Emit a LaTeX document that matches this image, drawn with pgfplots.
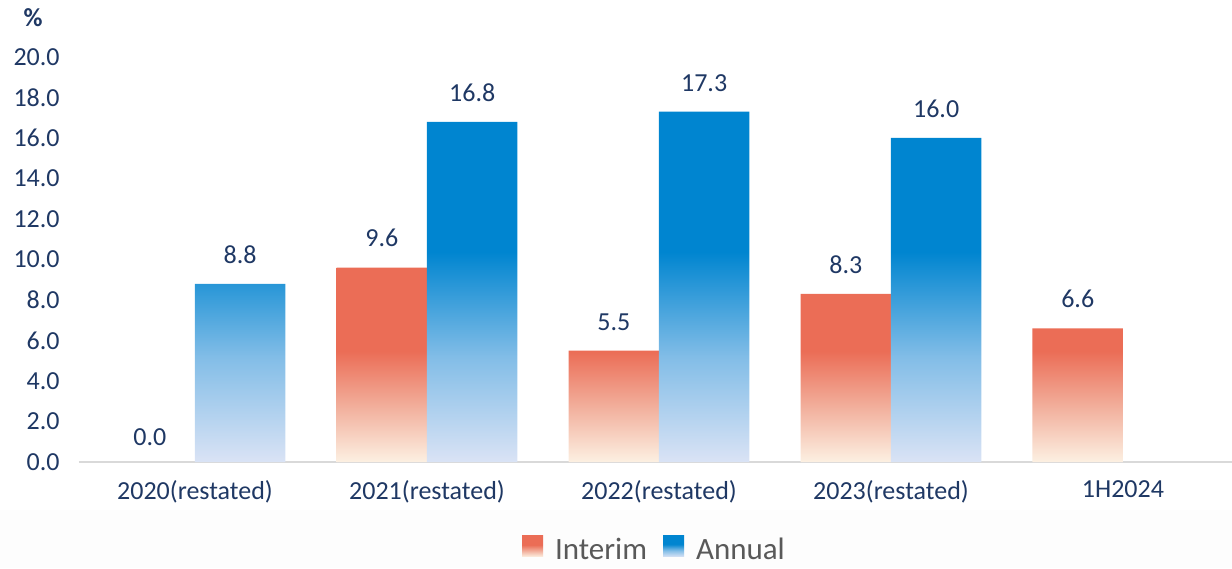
\documentclass[border=0pt]{standalone}
\usepackage{pgfplots}
\pgfplotsset{compat=1.18}
\usepackage{fontspec}
\setmainfont{Carlito}
\definecolor{navy}{HTML}{1F3864}
\definecolor{legtext}{HTML}{595959}
\definecolor{axisgrey}{HTML}{D9D9D9}
\definecolor{bggrey}{HTML}{FDFDFD}
\definecolor{redtop}{HTML}{EB6D56}
\definecolor{redmid}{HTML}{F2B09D}
\definecolor{redbot}{HTML}{FCF0E2}
\definecolor{bluetop}{HTML}{0085D0}
\definecolor{bluemid}{HTML}{82BDE7}
\definecolor{bluebot}{HTML}{DAE3F5}
\pgfdeclareverticalshading{interimshade}{100bp}{color(0bp)=(redbot); color(25bp)=(redbot); color(39bp)=(redmid); color(53.5bp)=(redtop); color(100bp)=(redtop)}
\pgfdeclareverticalshading{annualshade}{100bp}{color(0bp)=(bluebot); color(25bp)=(bluebot); color(40bp)=(bluemid); color(55bp)=(bluetop); color(100bp)=(bluetop)}
\begin{document}
\begin{tikzpicture}
\useasboundingbox (-39.5pt,-53pt) rectangle (576.5pt,231pt);
\fill[bggrey] (-39.5pt,-53pt) rectangle (576.5pt,-24pt);
\begin{axis}[
  anchor=south west, at={(0pt,0pt)},
  scale only axis, width=576.5pt, height=202.5pt,
  xmin=-0.5, xmax=4.47, ymin=0, ymax=20,
  clip=false,
  axis x line*=bottom, axis y line*=left,
  x axis line style={draw=axisgrey, line width=1pt},
  y axis line style={draw=none},
  xtick={0,1,2,3,4},
  xticklabels={2020(restated),2021(restated),2022(restated),2023(restated),1H2024},
  ytick={0,2,4,6,8,10,12,14,16,18,20},
  major tick length=0pt,
  /pgf/number format/assume math mode=true,
  tick label style={font=\fontsize{13}{15}\selectfont, text=navy},
  yticklabel style={inner sep=0pt, anchor=east, xshift=-9.5pt,
    /pgf/number format/fixed, /pgf/number format/fixed zerofill, /pgf/number format/precision=1},
  xticklabel style={inner sep=0pt, anchor=north, yshift=-9pt},
  every node near coord/.append style={font=\fontsize{13}{15}\selectfont, text=navy, inner sep=0pt, anchor=south, yshift=10pt,
    /pgf/number format/fixed, /pgf/number format/fixed zerofill, /pgf/number format/precision=1},
  legend style={at={(0.5,0)}, anchor=center, yshift=-41.5pt, draw=none, fill=none,
    legend columns=-1, font=\fontsize{15.5}{18}\selectfont, text=legtext,
    /tikz/every odd column/.append style={column sep=4pt},
    /tikz/every even column/.append style={column sep=6pt}},
]
\addplot[ybar, bar width=0.39, bar shift=-0.195, draw=none, shade, shading=interimshade,
  nodes near coords, every node near coord/.append style={xshift=-22.6pt},
  legend image code/.code={\path (0pt,13pt); \shade[shading=interimshade] (0pt,-3.5pt) rectangle (10.5pt,7pt);}]
  coordinates {(1,9.6) (2,5.5) (3,8.3) (4,6.6)};
\addlegendentry{Interim}
\addplot[ybar, bar width=0.39, bar shift=0.195, draw=none, shade, shading=annualshade,
  nodes near coords, every node near coord/.append style={xshift=22.6pt},
  legend image code/.code={\path (0pt,13pt); \shade[shading=annualshade] (0pt,-3.5pt) rectangle (10.5pt,7pt);}]
  coordinates {(0,8.8) (1,16.8) (2,17.3) (3,16.0)};
\addlegendentry{Annual}
\addplot[ybar, bar width=0.39, bar shift=-0.195, draw=none, fill=none, nodes near coords,
  every node near coord/.append style={xshift=-22.6pt, yshift=-2pt}, forget plot]
  coordinates {(0,0)};
\node[font=\bfseries\fontsize{13}{15}\selectfont, text=navy] at (rel axis cs:0,1) [xshift=-23pt, yshift=19.5pt] {\%};
\end{axis}
\end{tikzpicture}
\end{document}
